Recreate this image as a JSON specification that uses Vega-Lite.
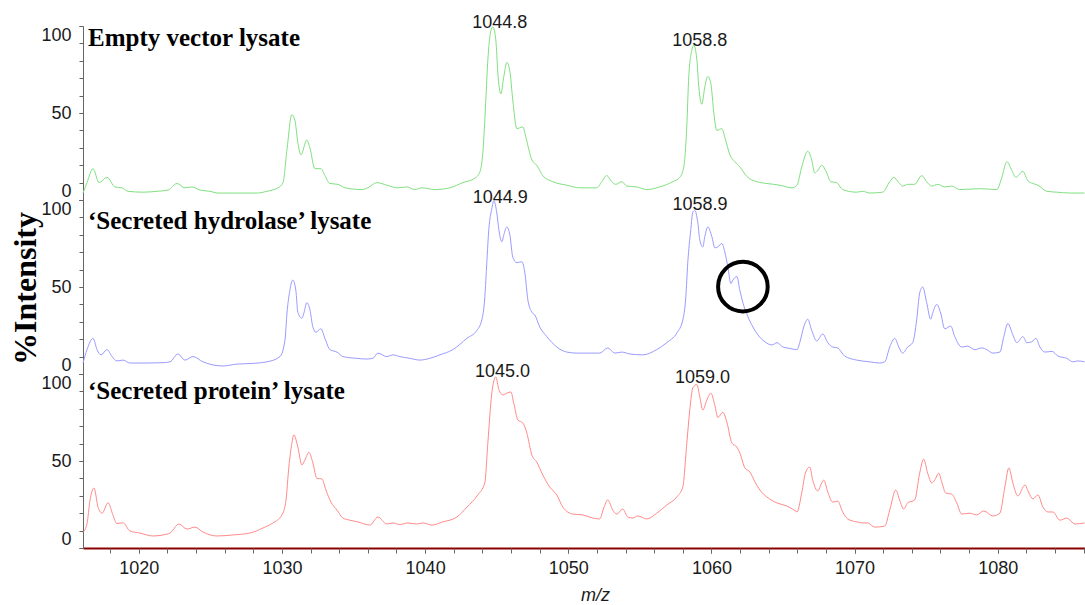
{
  "$schema": "https://vega.github.io/schema/vega-lite/v6.json",
  "background": "white",
  "padding": {"left": 9, "top": 13, "right": 0, "bottom": 0},
  "spacing": 0,
  "bounds": "flush",
  "config": {
    "view": {"stroke": null},
    "axis": {"grid": false, "labelFont": "Liberation Sans", "labelFontSize": 18, "labelColor": "#1a1a1a", "tickColor": "#666666", "domainColor": "#666666"}
  },
  "datasets": {
    "empty": [
      {"mz":1016.10,"intensity":4},{"mz":1016.38,"intensity":10},{"mz":1016.80,"intensity":18},{"mz":1017.22,"intensity":10},{"mz":1017.78,"intensity":13},{"mz":1018.33,"intensity":7.5},{"mz":1018.82,"intensity":7},{"mz":1019.24,"intensity":5},{"mz":1020.29,"intensity":4.5},{"mz":1021.27,"intensity":5},{"mz":1022.04,"intensity":5.7},{"mz":1022.66,"intensity":9.5},{"mz":1023.22,"intensity":7},{"mz":1023.71,"intensity":7.5},{"mz":1024.27,"intensity":5.7},{"mz":1024.97,"intensity":5},{"mz":1025.53,"intensity":4},{"mz":1026.57,"intensity":4},{"mz":1028.25,"intensity":4},{"mz":1028.95,"intensity":5},{"mz":1029.72,"intensity":7},{"mz":1030.07,"intensity":10},{"mz":1030.35,"intensity":29},{"mz":1030.69,"intensity":49},{"mz":1030.90,"intensity":46},{"mz":1031.11,"intensity":33},{"mz":1031.32,"intensity":26},{"mz":1031.74,"intensity":34.5},{"mz":1031.95,"intensity":30},{"mz":1032.30,"intensity":18},{"mz":1032.72,"intensity":18},{"mz":1033.00,"intensity":14},{"mz":1033.35,"intensity":9.5},{"mz":1033.91,"intensity":9},{"mz":1034.40,"intensity":7},{"mz":1035.58,"intensity":6},{"mz":1036.00,"intensity":7},{"mz":1036.63,"intensity":10},{"mz":1037.33,"intensity":8.5},{"mz":1038.10,"intensity":7},{"mz":1038.73,"intensity":7.5},{"mz":1039.28,"intensity":6},{"mz":1039.77,"intensity":7},{"mz":1040.68,"intensity":6},{"mz":1041.73,"intensity":7},{"mz":1042.64,"intensity":10},{"mz":1043.47,"intensity":12.5},{"mz":1043.82,"intensity":16},{"mz":1044.03,"intensity":27},{"mz":1044.24,"intensity":57},{"mz":1044.38,"intensity":80},{"mz":1044.59,"intensity":97},{"mz":1044.73,"intensity":99.5},{"mz":1044.94,"intensity":92},{"mz":1045.08,"intensity":73},{"mz":1045.29,"intensity":61},{"mz":1045.50,"intensity":71},{"mz":1045.71,"intensity":79},{"mz":1045.92,"intensity":74},{"mz":1046.13,"intensity":57},{"mz":1046.41,"intensity":41},{"mz":1046.83,"intensity":42},{"mz":1047.04,"intensity":36},{"mz":1047.46,"intensity":23},{"mz":1047.80,"intensity":20},{"mz":1048.22,"intensity":14},{"mz":1048.92,"intensity":10.5},{"mz":1049.90,"intensity":8.5},{"mz":1050.81,"intensity":7},{"mz":1052.00,"intensity":7},{"mz":1052.34,"intensity":10.5},{"mz":1052.69,"intensity":14},{"mz":1053.04,"intensity":10.5},{"mz":1053.32,"intensity":9},{"mz":1053.74,"intensity":10.5},{"mz":1054.09,"intensity":8},{"mz":1054.79,"intensity":7.5},{"mz":1055.49,"intensity":6},{"mz":1056.39,"intensity":7.5},{"mz":1057.30,"intensity":10.5},{"mz":1057.79,"intensity":13},{"mz":1058.07,"intensity":19},{"mz":1058.28,"intensity":42},{"mz":1058.42,"intensity":71},{"mz":1058.63,"intensity":86},{"mz":1058.77,"intensity":89},{"mz":1058.98,"intensity":81},{"mz":1059.12,"intensity":65},{"mz":1059.33,"intensity":55},{"mz":1059.54,"intensity":65},{"mz":1059.75,"intensity":71},{"mz":1059.96,"intensity":67},{"mz":1060.17,"intensity":50},{"mz":1060.38,"intensity":40},{"mz":1060.73,"intensity":41},{"mz":1060.94,"intensity":36},{"mz":1061.29,"intensity":26},{"mz":1061.64,"intensity":22},{"mz":1061.99,"intensity":19},{"mz":1062.48,"intensity":13.5},{"mz":1063.18,"intensity":10.5},{"mz":1063.88,"intensity":9.5},{"mz":1064.79,"intensity":8.5},{"mz":1065.63,"intensity":7},{"mz":1065.98,"intensity":8.5},{"mz":1066.31,"intensity":19},{"mz":1066.73,"intensity":28},{"mz":1067.01,"intensity":23},{"mz":1067.22,"intensity":15.5},{"mz":1067.43,"intensity":17},{"mz":1067.71,"intensity":20},{"mz":1068.06,"intensity":15.5},{"mz":1068.34,"intensity":10.5},{"mz":1068.75,"intensity":10},{"mz":1069.17,"intensity":6},{"mz":1070.15,"intensity":4.5},{"mz":1070.57,"intensity":5},{"mz":1071.06,"intensity":4},{"mz":1071.97,"intensity":4.5},{"mz":1072.46,"intensity":10.5},{"mz":1072.74,"intensity":13},{"mz":1073.09,"intensity":10},{"mz":1073.36,"intensity":8},{"mz":1073.71,"intensity":9},{"mz":1074.20,"intensity":9},{"mz":1074.69,"intensity":14},{"mz":1075.04,"intensity":10.5},{"mz":1075.39,"intensity":8},{"mz":1075.81,"intensity":9},{"mz":1076.30,"intensity":7.5},{"mz":1076.79,"intensity":8},{"mz":1077.35,"intensity":6},{"mz":1078.75,"intensity":6.5},{"mz":1079.94,"intensity":6},{"mz":1080.29,"intensity":13},{"mz":1080.64,"intensity":22},{"mz":1080.99,"intensity":17},{"mz":1081.27,"intensity":13},{"mz":1081.76,"intensity":16.5},{"mz":1082.11,"intensity":11},{"mz":1082.46,"intensity":9.5},{"mz":1082.81,"intensity":8.5},{"mz":1083.44,"intensity":5},{"mz":1084.14,"intensity":4.5},{"mz":1085.04,"intensity":4},{"mz":1086.07,"intensity":4}
    ],
    "hydrolase": [
      {"mz":1016.10,"intensity":6.3},{"mz":1016.38,"intensity":14},{"mz":1016.80,"intensity":20.5},{"mz":1017.08,"intensity":14},{"mz":1017.36,"intensity":11},{"mz":1017.78,"intensity":14},{"mz":1018.13,"intensity":10},{"mz":1018.47,"intensity":7.5},{"mz":1018.89,"intensity":8},{"mz":1019.38,"intensity":6.3},{"mz":1020.57,"intensity":6.3},{"mz":1021.69,"intensity":6.5},{"mz":1022.18,"intensity":7},{"mz":1022.73,"intensity":11.5},{"mz":1023.22,"intensity":8},{"mz":1023.78,"intensity":10},{"mz":1024.48,"intensity":7},{"mz":1025.88,"intensity":4.6},{"mz":1026.85,"intensity":5.7},{"mz":1027.76,"intensity":6},{"mz":1028.95,"intensity":7},{"mz":1029.86,"intensity":10},{"mz":1030.21,"intensity":19.5},{"mz":1030.35,"intensity":35},{"mz":1030.55,"intensity":48},{"mz":1030.76,"intensity":54},{"mz":1030.97,"intensity":48},{"mz":1031.11,"intensity":35.5},{"mz":1031.39,"intensity":32},{"mz":1031.53,"intensity":35},{"mz":1031.74,"intensity":41},{"mz":1031.95,"intensity":37},{"mz":1032.16,"intensity":27},{"mz":1032.37,"intensity":24},{"mz":1032.72,"intensity":26},{"mz":1033.00,"intensity":20.5},{"mz":1033.35,"intensity":14},{"mz":1033.84,"intensity":12.6},{"mz":1034.26,"intensity":10},{"mz":1035.23,"intensity":9},{"mz":1035.93,"intensity":8.6},{"mz":1036.35,"intensity":9},{"mz":1036.70,"intensity":12},{"mz":1037.33,"intensity":10},{"mz":1037.75,"intensity":11},{"mz":1038.24,"intensity":10},{"mz":1038.93,"intensity":9},{"mz":1039.63,"intensity":8},{"mz":1040.33,"intensity":9},{"mz":1041.03,"intensity":11},{"mz":1041.94,"intensity":14},{"mz":1042.92,"intensity":20.5},{"mz":1043.61,"intensity":25},{"mz":1043.96,"intensity":31},{"mz":1044.17,"intensity":44},{"mz":1044.31,"intensity":64},{"mz":1044.45,"intensity":83},{"mz":1044.66,"intensity":95},{"mz":1044.80,"intensity":99.5},{"mz":1045.01,"intensity":92.5},{"mz":1045.15,"intensity":83},{"mz":1045.36,"intensity":76},{"mz":1045.50,"intensity":80},{"mz":1045.71,"intensity":84.5},{"mz":1045.92,"intensity":80},{"mz":1046.13,"intensity":67},{"mz":1046.41,"intensity":64},{"mz":1046.76,"intensity":64.5},{"mz":1046.97,"intensity":58},{"mz":1047.18,"intensity":42.5},{"mz":1047.46,"intensity":35.5},{"mz":1047.66,"intensity":34},{"mz":1048.01,"intensity":27},{"mz":1048.50,"intensity":21.5},{"mz":1049.20,"intensity":15.5},{"mz":1049.90,"intensity":12.6},{"mz":1050.60,"intensity":12},{"mz":1051.51,"intensity":12},{"mz":1052.20,"intensity":12},{"mz":1052.76,"intensity":15},{"mz":1053.25,"intensity":12},{"mz":1053.74,"intensity":12.6},{"mz":1054.30,"intensity":11.5},{"mz":1055.21,"intensity":11},{"mz":1056.18,"intensity":14},{"mz":1056.88,"intensity":18},{"mz":1057.58,"intensity":23.5},{"mz":1058.00,"intensity":31},{"mz":1058.21,"intensity":44},{"mz":1058.35,"intensity":64},{"mz":1058.56,"intensity":83},{"mz":1058.70,"intensity":93},{"mz":1058.84,"intensity":94},{"mz":1059.05,"intensity":87},{"mz":1059.19,"intensity":77},{"mz":1059.40,"intensity":73},{"mz":1059.54,"intensity":79},{"mz":1059.75,"intensity":84.5},{"mz":1060.03,"intensity":79},{"mz":1060.24,"intensity":72.5},{"mz":1060.45,"intensity":73},{"mz":1060.73,"intensity":75},{"mz":1060.94,"intensity":70},{"mz":1061.15,"intensity":61.5},{"mz":1061.36,"intensity":52},{"mz":1061.50,"intensity":54},{"mz":1061.78,"intensity":56},{"mz":1061.99,"intensity":48},{"mz":1062.20,"intensity":41},{"mz":1062.55,"intensity":33},{"mz":1062.90,"intensity":27},{"mz":1063.25,"intensity":22.5},{"mz":1063.74,"intensity":18.5},{"mz":1064.23,"intensity":16.7},{"mz":1064.58,"intensity":18},{"mz":1065.00,"intensity":15.5},{"mz":1065.28,"intensity":15},{"mz":1065.63,"intensity":14.4},{"mz":1065.98,"intensity":14},{"mz":1066.17,"intensity":18},{"mz":1066.45,"intensity":27},{"mz":1066.73,"intensity":31.5},{"mz":1067.01,"intensity":25},{"mz":1067.36,"intensity":19},{"mz":1067.78,"intensity":23},{"mz":1068.13,"intensity":18},{"mz":1068.47,"intensity":15.5},{"mz":1068.82,"intensity":15},{"mz":1069.31,"intensity":10.3},{"mz":1070.15,"intensity":8},{"mz":1071.06,"intensity":7},{"mz":1071.76,"intensity":6.3},{"mz":1072.11,"intensity":7},{"mz":1072.46,"intensity":15.5},{"mz":1072.81,"intensity":20.5},{"mz":1073.09,"intensity":15.5},{"mz":1073.36,"intensity":12},{"mz":1073.71,"intensity":15.5},{"mz":1074.06,"intensity":18},{"mz":1074.34,"intensity":31},{"mz":1074.55,"intensity":46.5},{"mz":1074.76,"intensity":50},{"mz":1075.04,"intensity":41},{"mz":1075.32,"intensity":31.5},{"mz":1075.46,"intensity":35},{"mz":1075.74,"intensity":40},{"mz":1076.02,"intensity":35},{"mz":1076.30,"intensity":26},{"mz":1076.72,"intensity":27.5},{"mz":1077.00,"intensity":21.5},{"mz":1077.49,"intensity":15.5},{"mz":1077.91,"intensity":16},{"mz":1078.40,"intensity":14},{"mz":1078.89,"intensity":15},{"mz":1079.24,"intensity":14},{"mz":1079.66,"intensity":12},{"mz":1080.15,"intensity":12.6},{"mz":1080.43,"intensity":21.5},{"mz":1080.71,"intensity":29},{"mz":1081.06,"intensity":22.5},{"mz":1081.34,"intensity":18},{"mz":1081.76,"intensity":21.5},{"mz":1082.04,"intensity":18},{"mz":1082.39,"intensity":18.5},{"mz":1082.67,"intensity":20.5},{"mz":1082.95,"intensity":15.5},{"mz":1083.30,"intensity":12.6},{"mz":1083.79,"intensity":13},{"mz":1084.21,"intensity":10.3},{"mz":1084.83,"intensity":9},{"mz":1085.25,"intensity":7},{"mz":1085.60,"intensity":7.5},{"mz":1086.07,"intensity":7}
    ],
    "protein": [
      {"mz":1016.10,"intensity":9},{"mz":1016.38,"intensity":14},{"mz":1016.59,"intensity":27.5},{"mz":1016.87,"intensity":34.5},{"mz":1017.15,"intensity":23.5},{"mz":1017.43,"intensity":20},{"mz":1017.85,"intensity":26},{"mz":1018.19,"intensity":19},{"mz":1018.47,"intensity":14},{"mz":1018.89,"intensity":14.5},{"mz":1019.38,"intensity":9.8},{"mz":1020.08,"intensity":8.6},{"mz":1020.99,"intensity":6.9},{"mz":1021.69,"intensity":7.5},{"mz":1022.18,"intensity":8.6},{"mz":1022.80,"intensity":13.8},{"mz":1023.36,"intensity":10.9},{"mz":1023.92,"intensity":12},{"mz":1024.48,"intensity":9.2},{"mz":1025.46,"intensity":6.9},{"mz":1026.57,"intensity":7.5},{"mz":1027.76,"intensity":8.6},{"mz":1028.67,"intensity":11.5},{"mz":1029.37,"intensity":14.4},{"mz":1030.00,"intensity":19},{"mz":1030.28,"intensity":27.5},{"mz":1030.48,"intensity":46.5},{"mz":1030.69,"intensity":60},{"mz":1030.83,"intensity":65},{"mz":1031.11,"intensity":58},{"mz":1031.39,"intensity":47.7},{"mz":1031.60,"intensity":50.5},{"mz":1031.88,"intensity":55},{"mz":1032.16,"intensity":48.9},{"mz":1032.44,"intensity":40},{"mz":1032.79,"intensity":39.7},{"mz":1033.07,"intensity":33.3},{"mz":1033.42,"intensity":26.4},{"mz":1033.84,"intensity":21.8},{"mz":1034.26,"intensity":17.2},{"mz":1034.74,"intensity":16},{"mz":1035.30,"intensity":15},{"mz":1036.14,"intensity":13.2},{"mz":1036.70,"intensity":17.8},{"mz":1037.33,"intensity":13.8},{"mz":1037.75,"intensity":14.4},{"mz":1038.24,"intensity":13.5},{"mz":1038.80,"intensity":14.4},{"mz":1039.42,"intensity":13.8},{"mz":1039.84,"intensity":14.4},{"mz":1040.47,"intensity":13.2},{"mz":1041.24,"intensity":15},{"mz":1042.22,"intensity":17.8},{"mz":1042.92,"intensity":23.5},{"mz":1043.68,"intensity":30.5},{"mz":1044.17,"intensity":37.4},{"mz":1044.38,"intensity":60},{"mz":1044.66,"intensity":89},{"mz":1044.94,"intensity":98.3},{"mz":1045.15,"intensity":91},{"mz":1045.43,"intensity":88},{"mz":1045.71,"intensity":89},{"mz":1045.99,"intensity":89.7},{"mz":1046.20,"intensity":83},{"mz":1046.48,"intensity":73.6},{"mz":1046.83,"intensity":71.8},{"mz":1047.11,"intensity":66},{"mz":1047.46,"intensity":53.4},{"mz":1047.80,"intensity":49.4},{"mz":1048.22,"intensity":42},{"mz":1048.71,"intensity":35},{"mz":1049.20,"intensity":30.5},{"mz":1049.62,"intensity":23.5},{"mz":1050.32,"intensity":19.5},{"mz":1051.02,"intensity":19},{"mz":1051.72,"intensity":17.2},{"mz":1052.20,"intensity":16.7},{"mz":1052.48,"intensity":23},{"mz":1052.76,"intensity":27.6},{"mz":1053.11,"intensity":21.8},{"mz":1053.39,"intensity":19.5},{"mz":1053.81,"intensity":22.4},{"mz":1054.16,"intensity":17.8},{"mz":1054.51,"intensity":17.2},{"mz":1054.86,"intensity":18.4},{"mz":1055.49,"intensity":16.7},{"mz":1056.18,"intensity":20},{"mz":1056.88,"intensity":24.7},{"mz":1057.58,"intensity":29.3},{"mz":1058.00,"intensity":35},{"mz":1058.28,"intensity":60},{"mz":1058.49,"intensity":79.3},{"mz":1058.70,"intensity":92},{"mz":1058.98,"intensity":94},{"mz":1059.19,"intensity":86.8},{"mz":1059.40,"intensity":79.3},{"mz":1059.68,"intensity":85},{"mz":1059.96,"intensity":89},{"mz":1060.24,"intensity":82},{"mz":1060.45,"intensity":75},{"mz":1060.80,"intensity":78},{"mz":1061.08,"intensity":72.4},{"mz":1061.43,"intensity":60.3},{"mz":1061.78,"intensity":58},{"mz":1061.99,"intensity":54.6},{"mz":1062.34,"intensity":46},{"mz":1062.69,"intensity":43.7},{"mz":1063.04,"intensity":38},{"mz":1063.39,"intensity":33.3},{"mz":1063.88,"intensity":29.3},{"mz":1064.58,"intensity":25.9},{"mz":1065.28,"intensity":24.1},{"mz":1065.84,"intensity":21.5},{"mz":1065.98,"intensity":20.7},{"mz":1066.31,"intensity":31.6},{"mz":1066.59,"intensity":43.7},{"mz":1066.87,"intensity":46.5},{"mz":1067.08,"intensity":39},{"mz":1067.43,"intensity":32.8},{"mz":1067.71,"intensity":37.4},{"mz":1067.85,"intensity":39},{"mz":1068.13,"intensity":32.2},{"mz":1068.47,"intensity":26.4},{"mz":1068.82,"intensity":27},{"mz":1069.17,"intensity":20.7},{"mz":1069.52,"intensity":16.7},{"mz":1070.15,"intensity":15},{"mz":1070.57,"intensity":14.4},{"mz":1070.92,"intensity":14.4},{"mz":1071.41,"intensity":12},{"mz":1072.11,"intensity":12.6},{"mz":1072.46,"intensity":21.8},{"mz":1072.88,"intensity":33.3},{"mz":1073.15,"intensity":27.6},{"mz":1073.43,"intensity":22.4},{"mz":1073.71,"intensity":25.9},{"mz":1074.20,"intensity":27.6},{"mz":1074.55,"intensity":43},{"mz":1074.83,"intensity":51},{"mz":1075.11,"intensity":43},{"mz":1075.39,"intensity":37.4},{"mz":1075.60,"intensity":39},{"mz":1075.88,"intensity":43},{"mz":1076.09,"intensity":38},{"mz":1076.37,"intensity":31.6},{"mz":1076.79,"intensity":31},{"mz":1077.14,"intensity":25.9},{"mz":1077.49,"intensity":19.5},{"mz":1078.05,"intensity":20},{"mz":1078.54,"intensity":19},{"mz":1079.03,"intensity":21.3},{"mz":1079.66,"intensity":18.4},{"mz":1080.15,"intensity":20},{"mz":1080.50,"intensity":35},{"mz":1080.78,"intensity":46},{"mz":1081.06,"intensity":37.4},{"mz":1081.41,"intensity":29.9},{"mz":1081.90,"intensity":36.2},{"mz":1082.18,"intensity":31.6},{"mz":1082.46,"intensity":28.2},{"mz":1082.81,"intensity":30.5},{"mz":1083.16,"intensity":23.5},{"mz":1083.51,"intensity":20.7},{"mz":1083.86,"intensity":20.7},{"mz":1084.34,"intensity":16},{"mz":1084.83,"intensity":17.2},{"mz":1085.39,"intensity":13.8},{"mz":1086.07,"intensity":14.4}
    ],
    "labels_empty": [
      {"mz":1045.22,"intensity":98.9,"label":"1044.8"},{"mz":1059.19,"intensity":88.7,"label":"1058.8"}
    ],
    "labels_hydrolase": [
      {"mz":1045.25,"intensity":98.4,"label":"1044.9"},{"mz":1059.2,"intensity":94.3,"label":"1058.9"}
    ],
    "labels_protein": [
      {"mz":1045.41,"intensity":98.1,"label":"1045.0"},{"mz":1059.38,"intensity":94.7,"label":"1059.0"}
    ],
    "title_empty": [{"mz":1016.45,"intensity":88.7,"label":"Empty vector lysate"}],
    "title_hydrolase": [{"mz":1016.45,"intensity":83.2,"label":"‘Secreted hydrolase’ lysate"}],
    "title_protein": [{"mz":1016.45,"intensity":85.5,"label":"‘Secreted protein’ lysate"}],
    "marker": [{"mz":1062.2,"intensity":50.2}]
  },
  "vconcat": [
    {
      "width": 1002, "height": 174,
      "resolve": {"axis": {"x": "independent", "y": "independent"}},
      "layer": [
        {
          "data": {"name": "empty"},
          "mark": {"type": "line", "color": "#80e080", "strokeWidth": 1, "interpolate": "monotone"},
          "encoding": {
            "x": {"field": "mz", "type": "quantitative", "scale": {"domain": [1016.1, 1086.1], "nice": false, "zero": false}, "axis": null},
            "y": {"field": "intensity", "type": "quantitative", "scale": {"domain": [0, 100], "nice": false}, "axis": {"orient": "left", "title": null, "values": [0, 50, 100], "labelFlush": true, "tickSize": 4, "labelPadding": 8}}
          }
        },
        {
          "data": {"name": "labels_empty"},
          "mark": {"type": "text", "font": "Liberation Sans", "fontSize": 18, "baseline": "alphabetic", "align": "center", "color": "#1a1a1a"},
          "encoding": {
            "x": {"field": "mz", "type": "quantitative", "axis": null},
            "y": {"field": "intensity", "type": "quantitative", "axis": {"orient": "left", "title": null, "values": [0,10,20,30,40,50,60,70,80,90,100], "labels": false, "domain": false, "tickSize": 4}},
            "text": {"field": "label"}
          }
        },
        {
          "data": {"name": "title_empty"},
          "mark": {"type": "text", "font": "Liberation Serif", "fontWeight": "bold", "fontSize": 25, "baseline": "alphabetic", "align": "left", "color": "black"},
          "encoding": {"x": {"field": "mz", "type": "quantitative", "axis": null}, "y": {"field": "intensity", "type": "quantitative", "axis": null}, "text": {"field": "label"}}
        }
      ]
    },
    {
      "width": 1002, "height": 174,
      "resolve": {"axis": {"x": "independent", "y": "independent"}},
      "layer": [
        {
          "data": {"name": "hydrolase"},
          "mark": {"type": "line", "color": "#9a9aff", "strokeWidth": 1, "interpolate": "monotone"},
          "encoding": {
            "x": {"field": "mz", "type": "quantitative", "scale": {"domain": [1016.1, 1086.1], "nice": false, "zero": false}, "axis": null},
            "y": {"field": "intensity", "type": "quantitative", "scale": {"domain": [0, 100], "nice": false}, "axis": {"orient": "left", "title": "%Intensity", "titleFont": "Liberation Serif", "titleFontWeight": "bold", "titleFontSize": 32, "titleColor": "black", "titleX": -48, "titleY": 88, "titleBaseline": "alphabetic", "titleAlign": "center", "titleAngle": 270, "values": [0, 50, 100], "labelFlush": true, "tickSize": 4, "labelPadding": 8}}
          }
        },
        {
          "data": {"name": "labels_hydrolase"},
          "mark": {"type": "text", "font": "Liberation Sans", "fontSize": 18, "baseline": "alphabetic", "align": "center", "color": "#1a1a1a"},
          "encoding": {
            "x": {"field": "mz", "type": "quantitative", "axis": null},
            "y": {"field": "intensity", "type": "quantitative", "axis": {"orient": "left", "title": null, "values": [0,10,20,30,40,50,60,70,80,90,100], "labels": false, "domain": false, "tickSize": 4}},
            "text": {"field": "label"}
          }
        },
        {
          "data": {"name": "title_hydrolase"},
          "mark": {"type": "text", "font": "Liberation Serif", "fontWeight": "bold", "fontSize": 25, "baseline": "alphabetic", "align": "left", "color": "black"},
          "encoding": {"x": {"field": "mz", "type": "quantitative", "axis": null}, "y": {"field": "intensity", "type": "quantitative", "axis": null}, "text": {"field": "label"}}
        },
        {
          "data": {"name": "marker"},
          "mark": {"type": "point", "shape": "circle", "size": 2460, "filled": false, "color": "black", "strokeWidth": 4, "opacity": 1},
          "encoding": {"x": {"field": "mz", "type": "quantitative", "axis": null}, "y": {"field": "intensity", "type": "quantitative", "axis": null}}
        }
      ]
    },
    {
      "width": 1002, "height": 174,
      "resolve": {"axis": {"x": "independent", "y": "independent"}},
      "layer": [
        {
          "data": {"name": "protein"},
          "mark": {"type": "line", "color": "#ff8a8a", "strokeWidth": 1, "interpolate": "monotone"},
          "encoding": {
            "x": {"field": "mz", "type": "quantitative", "scale": {"domain": [1016.1, 1086.1], "nice": false, "zero": false}, "axis": {"orient": "bottom", "title": "m/z", "titleFont": "Liberation Sans", "titleFontStyle": "italic", "titleFontWeight": "normal", "titleFontSize": 18, "titleColor": "#1a1a1a", "titleX": 512, "titleY": 52, "titleBaseline": "alphabetic", "titleAlign": "center", "values": [1020,1030,1040,1050,1060,1070,1080], "format": "d", "tickSize": 5, "domainColor": "#8b0000", "domainWidth": 2, "labelPadding": 6}},
            "y": {"field": "intensity", "type": "quantitative", "scale": {"domain": [0, 100], "nice": false}, "axis": {"orient": "left", "title": null, "values": [0, 50, 100], "labelFlush": true, "tickSize": 4, "labelPadding": 8}}
          }
        },
        {
          "data": {"name": "labels_protein"},
          "mark": {"type": "text", "font": "Liberation Sans", "fontSize": 18, "baseline": "alphabetic", "align": "center", "color": "#1a1a1a"},
          "encoding": {
            "x": {"field": "mz", "type": "quantitative", "axis": {"orient": "bottom", "title": null, "values": [1018,1020,1022,1024,1026,1028,1030,1032,1034,1036,1038,1040,1042,1044,1046,1048,1050,1052,1054,1056,1058,1060,1062,1064,1066,1068,1070,1072,1074,1076,1078,1080,1082,1084,1086], "labels": false, "domain": false, "tickSize": 5}},
            "y": {"field": "intensity", "type": "quantitative", "axis": {"orient": "left", "title": null, "values": [0,10,20,30,40,50,60,70,80,90,100], "labels": false, "domain": false, "tickSize": 4}},
            "text": {"field": "label"}
          }
        },
        {
          "data": {"name": "title_protein"},
          "mark": {"type": "text", "font": "Liberation Serif", "fontWeight": "bold", "fontSize": 25, "baseline": "alphabetic", "align": "left", "color": "black"},
          "encoding": {"x": {"field": "mz", "type": "quantitative", "axis": null}, "y": {"field": "intensity", "type": "quantitative", "axis": null}, "text": {"field": "label"}}
        }
      ]
    }
  ]
}
